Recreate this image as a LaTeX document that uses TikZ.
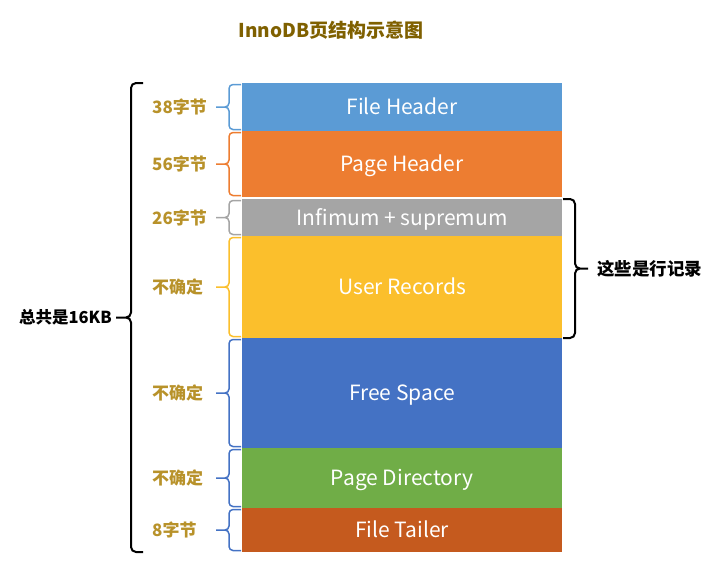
\documentclass[tikz,border=0pt]{standalone}
\usepackage{fontspec}
\setmainfont{Noto Sans CJK SC}
\usepackage{tikz}
\usetikzlibrary{positioning}
\usetikzlibrary{calc}
\definecolor{fhblue}{HTML}{5B9BD5}
\definecolor{phorange}{HTML}{ED7D31}
\definecolor{infgray}{HTML}{A5A5A5}
\definecolor{urgold}{HTML}{FBBF2C}
\definecolor{fsblue}{HTML}{4472C4}
\definecolor{pdgreen}{HTML}{70AD47}
\definecolor{ftbrown}{HTML}{C55A1E}
\definecolor{sizegold}{HTML}{B8922A}
\definecolor{titlebrown}{HTML}{7F6000}
\tikzstyle{page} = [rectangle, minimum width=320pt, inner sep=0pt, outer sep=0pt, text=white, text height=15pt, text depth=0pt, font=\fontsize{21}{21}\selectfont]
\tikzstyle{sizelabel} = [anchor=west, inner sep=0pt, text=sizegold, font=\fontsize{17}{17}\selectfont\bfseries]
\tikzstyle{note} = [inner sep=0pt, font=\fontsize{16.5}{16.5}\selectfont\bfseries]
\tikzstyle{smallbrace} = [line width=1.5pt, rounded corners=4pt]
\tikzstyle{bigbrace} = [line width=2pt, rounded corners=5pt]
% #1 style, #2 top end, #3 bottom end, #4 shift to the spine, #5 shift to the tip
\newcommand{\sidebrace}[5]{%
  \draw [#1] let \p1=(#2), \p2=(#3) in
    (\x1,\y1) -- ({\x1+(#4)},\y1) -- ({\x1+(#4)},{0.5*(\y1+\y2)}) -- ({\x1+(#5)},{0.5*(\y1+\y2)})
    ({\x1+(#5)},{0.5*(\y1+\y2)}) -- ({\x1+(#4)},{0.5*(\y1+\y2)}) -- ({\x1+(#4)},\y2) -- (\x2,\y2);
}

\begin{document}
\begin{tikzpicture}[x=1pt,y=-1pt]
    \useasboundingbox (0,0) rectangle (717,568);
    \node [note, text=titlebrown, font=\fontsize{19}{19}\selectfont\bfseries] (title) at (331,30) {InnoDB页结构示意图};

    \node [page, fill=fhblue, minimum height=48pt] (fh) at (402,107) {File Header};
    \node [page, fill=phorange, minimum height=66pt, below=0pt of fh] (ph) {Page Header};
    \node [page, fill=infgray, minimum height=37pt, below=2pt of ph] (inf) {Infimum + supremum};
    \node [page, fill=urgold, minimum height=102pt, below=0pt of inf] (ur) {User Records};
    \node [page, fill=fsblue, minimum height=110pt, below=0pt of ur] (fs) {Free Space};
    \node [page, fill=pdgreen, minimum height=60pt, below=0pt of fs] (pd) {Page Directory};
    \node [page, fill=ftbrown, minimum height=44pt, below=0pt of pd] (ft) {File Tailer};

    \node [sizelabel] (fhsize) at ([xshift=-90pt]fh.west) {38字节}; % sizes
    \node [sizelabel] (phsize) at ([xshift=-90pt]ph.west) {56字节};
    \node [sizelabel] (infsize) at ([xshift=-90pt]inf.west) {26字节};
    \node [sizelabel] (ursize) at ([xshift=-90pt]ur.west) {不确定};
    \node [sizelabel] (fssize) at ([xshift=-90pt]fs.west) {不确定};
    \node [sizelabel] (pdsize) at ([xshift=-90pt]pd.west) {不确定};
    \node [sizelabel] (ftsize) at ([xshift=-90pt]ft.west) {8字节};

    \sidebrace{smallbrace, fhblue}{[xshift=-1pt,yshift=-1.5pt]fh.north west}{[xshift=-1pt,yshift=1.5pt]fh.south west}{-12pt}{-25pt}
    \sidebrace{smallbrace, phorange}{[xshift=-1pt,yshift=-1.5pt]ph.north west}{[xshift=-1pt,yshift=1.5pt]ph.south west}{-12pt}{-25pt}
    \sidebrace{smallbrace, infgray}{[xshift=-1pt,yshift=-1.5pt]inf.north west}{[xshift=-1pt,yshift=1.5pt]inf.south west}{-12pt}{-25pt}
    \sidebrace{smallbrace, urgold}{[xshift=-1pt,yshift=-1.5pt]ur.north west}{[xshift=-1pt,yshift=1.5pt]ur.south west}{-12pt}{-25pt}
    \sidebrace{smallbrace, fsblue}{[xshift=-1pt,yshift=-1.5pt]fs.north west}{[xshift=-1pt,yshift=1.5pt]fs.south west}{-12pt}{-25pt}
    \sidebrace{smallbrace, fsblue}{[xshift=-1pt,yshift=-1.5pt]pd.north west}{[xshift=-1pt,yshift=1.5pt]pd.south west}{-12pt}{-25pt}
    \sidebrace{smallbrace, fsblue}{[xshift=-1pt,yshift=-1.5pt]ft.north west}{[xshift=-1pt,yshift=1.5pt]ft.south west}{-12pt}{-25pt}

    % whole page and records
    \sidebrace{bigbrace}{[xshift=-99pt]fh.north west}{[xshift=-99pt]ft.south west}{-12pt}{-27pt}
    \sidebrace{bigbrace}{[xshift=1pt]inf.north east}{[xshift=1pt]ur.south east}{12pt}{25pt}

    \coordinate (pagemid) at ($(fh.north west)!0.5!(ft.south west)$);
    \coordinate (rowmid) at ($(inf.north east)!0.5!(ur.south east)$);
    \node [note, anchor=east] (total) at ([xshift=-130pt]pagemid) {总共是16KB};
    \node [note, anchor=west, font=\fontsize{17.5}{17.5}\selectfont\bfseries] (rows) at ([xshift=35pt]rowmid) {这些是行记录};
\end{tikzpicture}
\end{document}
